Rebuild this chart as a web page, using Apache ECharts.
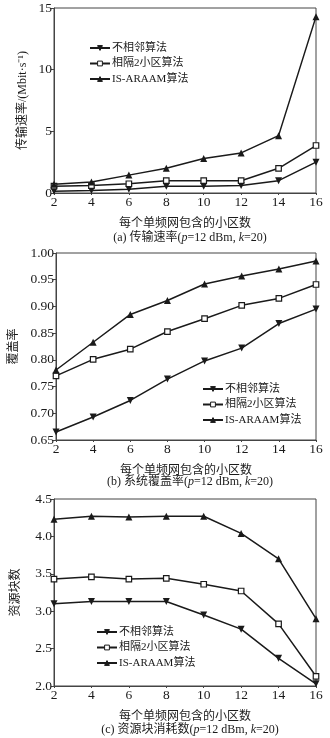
<!DOCTYPE html>
<html><head><meta charset="utf-8">
<script src="https://cdn.jsdelivr.net/npm/echarts@6/dist/echarts.min.js"></script>
<style>html,body{margin:0;padding:0;background:#fff}#c{width:330px;height:738px}</style>
</head><body><div id="c"></div>
<script>
const cells = [2, 4, 6, 8, 10, 12, 14, 16];
const seriesNames = ['不相邻算法', '相隔2小区算法', 'IS-ARAAM算法'];
// (a) transmission rate
const rateNonAdj = [0.15, 0.2, 0.3, 0.55, 0.55, 0.6, 1.0, 2.5];
const rateGap2 = [0.55, 0.6, 0.75, 1.0, 1.0, 1.0, 2.0, 3.85];
const rateIS = [0.7, 0.9, 1.45, 2.0, 2.8, 3.25, 4.65, 14.3];
// (b) coverage
const covNonAdj = [0.665, 0.693, 0.724, 0.764, 0.798, 0.822, 0.868, 0.895];
const covGap2 = [0.770, 0.801, 0.820, 0.853, 0.877, 0.902, 0.915, 0.941];
const covIS = [0.781, 0.833, 0.885, 0.911, 0.942, 0.957, 0.970, 0.985];
// (c) resource blocks
const rbNonAdj = [3.10, 3.13, 3.13, 3.13, 2.95, 2.76, 2.37, 2.03];
const rbGap2 = [3.43, 3.46, 3.43, 3.44, 3.36, 3.27, 2.83, 2.13];
const rbIS = [4.23, 4.27, 4.26, 4.27, 4.27, 4.04, 3.70, 2.90];

const yNames = ['传输速率/(Mbit·s⁻¹)', '覆盖率', '资源块数'];
const captions = ['(a) 传输速率({i|p}=12 dBm, {i|k}=20)', '(b) 系统覆盖率({i|p}=12 dBm, {i|k}=20)', '(c) 资源块消耗数({i|p}=12 dBm, {i|k}=20)'];
const xName = '每个单频网包含的小区数';

const SERIF = 'Liberation Serif, Times New Roman, serif';
const CJK = 'Liberation Serif, Noto Sans CJK SC, serif';
const INK = '#1a1a1a';

const grids = [
  {left: 54, right: 14, top: 8, height: 185},
  {left: 54, right: 14, top: 253, height: 187},
  {left: 54, right: 14, top: 499, height: 187}
];
const yCfg = [
  {min: 0, max: 15, interval: 5, fmt: v => String(v), nameGap: 25},
  {min: 0.65, max: 1.0, interval: 0.05, fmt: v => v.toFixed(2), nameGap: 36},
  {min: 2.0, max: 4.5, interval: 0.5, fmt: v => v.toFixed(1), nameGap: 32}
];
const data = [[rateNonAdj, rateGap2, rateIS], [covNonAdj, covGap2, covIS], [rbNonAdj, rbGap2, rbIS]];
const legendPos = [{left: 84, top: 37}, {left: 197, top: 378}, {left: 91, top: 621}];

const symbols = [
  {symbol: 'triangle', symbolRotate: 180, symbolSize: 7, fill: INK},
  {symbol: 'rect', symbolRotate: 0, symbolSize: 5.5, fill: '#fff'},
  {symbol: 'triangle', symbolRotate: 0, symbolSize: 7, fill: INK}
];

const option = {
  animation: false,
  backgroundColor: '#fff',
  grid: grids.map(g => Object.assign({show: true, borderColor: '#444', borderWidth: 1, backgroundColor: 'transparent'}, g)),
  xAxis: grids.map((g, i) => ({
    type: 'value', gridIndex: i, min: 2, max: 16, interval: 2,
    name: xName, nameLocation: 'middle', nameGap: 25, nameMoveOverlap: false,
    nameTextStyle: {fontFamily: CJK, fontSize: 12, color: INK},
    axisLine: {show: true, onZero: false, lineStyle: {color: '#444', width: 1}},
    axisTick: {show: true, inside: false, length: 2, lineStyle: {color: '#444'}},
    axisLabel: {fontFamily: SERIF, fontSize: 13.5, color: INK, margin: 2},
    splitLine: {show: false}
  })),
  yAxis: yCfg.map((c, i) => ({
    type: 'value', gridIndex: i, min: c.min, max: c.max, interval: c.interval,
    name: yNames[i], nameLocation: 'middle', nameGap: c.nameGap, nameRotate: 90, nameMoveOverlap: false,
    nameTextStyle: {fontFamily: CJK, fontSize: 12, color: INK},
    axisLine: {show: true, lineStyle: {color: '#444', width: 1}},
    axisTick: {show: true, inside: false, length: 3, lineStyle: {color: '#444'}},
    axisLabel: {fontFamily: SERIF, fontSize: 13.5, color: INK, margin: 2, formatter: c.fmt},
    splitLine: {show: false}
  })),
  title: captions.map((t, i) => ({
    text: t, left: 185, textAlign: 'center',
    top: [227, 471, 719][i],
    textStyle: {fontFamily: CJK, fontSize: 12, fontWeight: 'normal', color: INK,
      rich: {i: {fontFamily: SERIF, fontStyle: 'italic', fontSize: 12, color: INK}}}
  })),
  legend: legendPos.map(p => ({
    orient: 'vertical', left: p.left, top: p.top, data: seriesNames,
    itemWidth: 20, itemHeight: 6, itemGap: 3.5, selectedMode: false,
    itemStyle: {borderWidth: 1},
    textStyle: {fontFamily: CJK, fontSize: 11, lineHeight: 12, color: INK, padding: [0, 0, 0, -3]}
  })),
  series: []
};

data.forEach((grp, gi) => {
  grp.forEach((vals, si) => {
    const s = symbols[si];
    option.series.push({
      type: 'line', name: seriesNames[si], xAxisIndex: gi, yAxisIndex: gi,
      data: cells.map((x, k) => [x, vals[k]]),
      symbol: s.symbol, symbolRotate: s.symbolRotate, symbolSize: s.symbolSize,
      showSymbol: true,
      lineStyle: {color: INK, width: 1.5},
      itemStyle: {color: s.fill, borderColor: INK, borderWidth: si === 1 ? 1.2 : 0},
      z: 3
    });
  });
});

const chart = echarts.init(document.getElementById('c'), null, {renderer: 'canvas', width: 330, height: 738});
chart.setOption(option);
</script>
</body></html>
